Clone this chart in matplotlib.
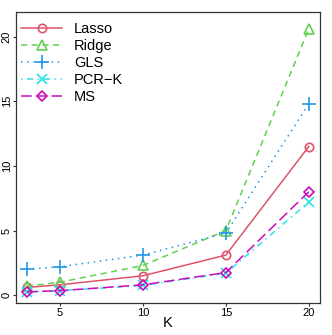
import numpy as np
import matplotlib.pyplot as plt

plt.rcParams['font.family'] = ['Liberation Sans', 'DejaVu Sans']

K = [3, 5, 10, 15, 20]
lasso = [0.6, 0.8, 1.5, 3.1, 11.5]
ridge = [0.7, 1.0, 2.3, 5.0, 20.6]
gls = [2.0, 2.2, 3.1, 4.8, 14.8]
pcrk = [0.25, 0.35, 0.75, 1.7, 7.2]
ms = [0.25, 0.35, 0.8, 1.75, 8.0]

names = ["Lasso", "Ridge", "GLS", "PCR\u2212K", "MS"]
series = [lasso, ridge, gls, pcrk, ms]
cols = ["#DF536B", "#61D04F", "#2297E6", "#28E2E5", "#CD0BBC"]
marks = ["o", "^", "+", "x", "D"]
msizes = [6, 7, 10, 6.5, 5.5]
dashes = [None, (4, 3), (1, 3), (1, 3, 4, 3), (7, 3)]

fig = plt.figure(figsize=(3.32, 3.35), dpi=100)
ax = fig.add_axes([0.047, 0.095, 0.917, 0.869])

for y, n, c, m, s, d in zip(series, names, cols, marks, msizes, dashes):
    line, = ax.plot(K, y, color=c, marker=m, markersize=s, markerfacecolor="none",
                    markeredgecolor=c, markeredgewidth=1.2, linewidth=1.1, label=n)
    if d is not None:
        line.set_dashes(d)

ax.set_xlim(2.32, 20.68)
ax.set_ylim(-0.62, 21.9)
ax.set_xticks([5, 10, 15, 20])
ax.set_yticks([0, 5, 10, 15, 20])
ax.tick_params(labelsize=8, length=2.2, width=0.8, color="#333333", pad=1)
ax.tick_params(axis="y", pad=0.5)
for t in ax.get_yticklabels():
    t.set_rotation(90)
    t.set_va("center")
ax.set_xlabel("K", fontsize=10.5, labelpad=-1)
for sp in ax.spines.values():
    sp.set_color("#333333")
    sp.set_linewidth(0.9)

ax.legend(loc="upper left", frameon=False, fontsize=10.5, handlelength=2.8,
          handletextpad=0.8, labelspacing=0.2, borderaxespad=0.0,
          bbox_to_anchor=(0.0, 0.985))

fig.savefig("out.png", dpi=100)
